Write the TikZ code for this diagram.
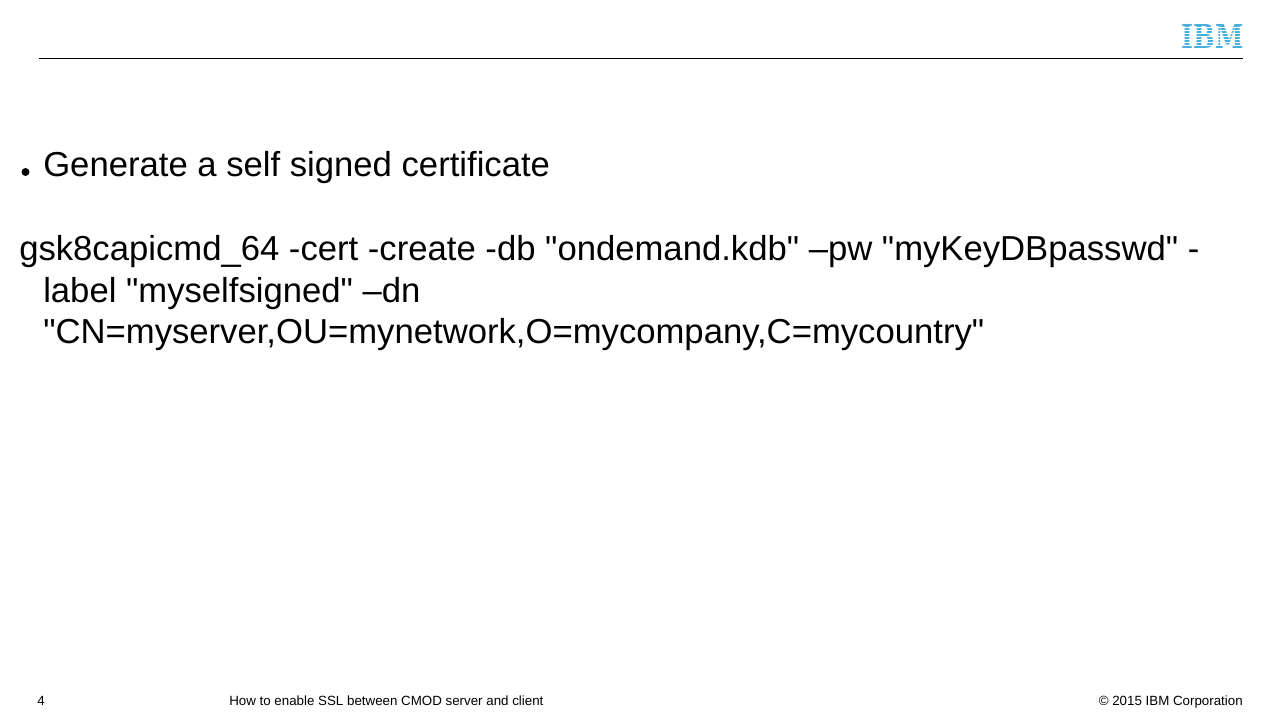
\documentclass[tikz,border=0pt]{standalone}
\usepackage{fontspec}
\newfontfamily\slidefont{Liberation Sans}
\newfontfamily\logofont{DejaVu Serif}
\usetikzlibrary{positioning}
\definecolor{ibmblue}{RGB}{70,175,220}
\tikzset{
	bodytext/.style={anchor=base west, inner sep=0pt, font=\slidefont\fontsize{26pt}{26pt}\selectfont},
	foottext/.style={anchor=base west, inner sep=0pt, font=\slidefont\fontsize{10pt}{10pt}\selectfont},
	logotext/.style={anchor=center, inner sep=0pt, text=ibmblue, font=\logofont\bfseries\fontsize{24pt}{24pt}\selectfont},
}
\begin{document}
\begin{tikzpicture}[x=0.75pt, y=-0.75pt]
	\useasboundingbox (0,0) rectangle (1280,720);
	\fill [white] (0,0) rectangle (1280,720);

	% Header
	\coordinate (ruleL) at (39,58.5);
	\coordinate (ruleR) at (1243,58.5);
	\draw [line width=0.8pt] (ruleL) -- (ruleR);
	\node [logotext, xscale=0.8, yscale=1.03] (logo) at (1212.5,36) {IBM};
	\foreach \y in {27,30,...,48}
		\draw [white, line width=0.6pt] (1178,\y) -- (1247,\y);

	% Body
	\fill (25.5,172) circle (4);
	\node [bodytext] (bullet) at (43,177) {Generate a self signed certificate};
	\node [bodytext] (cmd1)   at (19,260) {gsk8capicmd\_64 -cert -create -db "ondemand.kdb" –pw "myKeyDBpasswd" -};
	\node [bodytext] (cmd2)   at (43,302) {label "myselfsigned" –dn};
	\node [bodytext] (cmd3)   at (43,343) {"CN=myserver,OU=mynetwork,O=mycompany,C=mycountry"};

	% Footer
	\node [foottext] (page)  at (37,705) {4};
	\node [foottext] (title) at (229,705) {How to enable SSL between CMOD server and client};
	\node [foottext, anchor=base east] (copy) at (1243,705) {© 2015 IBM Corporation};
\end{tikzpicture}
\end{document}
